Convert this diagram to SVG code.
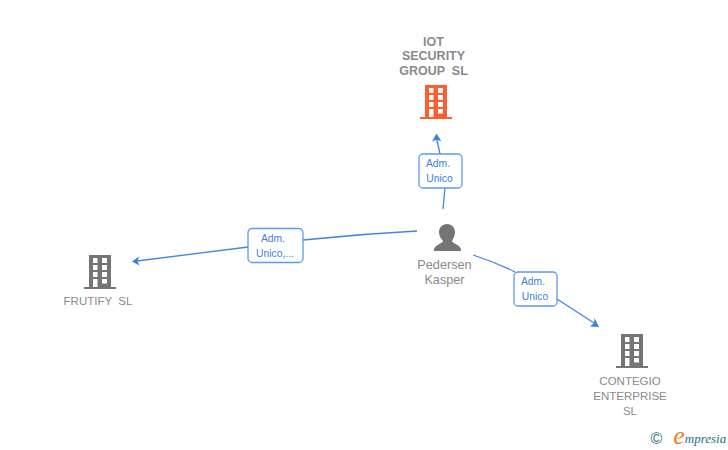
<svg xmlns="http://www.w3.org/2000/svg" width="728" height="450" viewBox="0 0 728 450">
<style>
text{font-family:"Liberation Sans",Arial,sans-serif;text-anchor:middle}
.n{font-size:11.500px;fill:#8a8a8a}
.b{font-size:12.500px;font-weight:bold;fill:#8a8a8a}
.p{font-size:12.700px;fill:#8a8a8a}
.l{font-size:10.300px;fill:#3a80e0}
.c{fill:none;stroke:#3f86e4;stroke-width:1.300}
.box{fill:#fff;stroke:#5b9cec;stroke-width:1.300}
.a{fill:#3a80e0}
</style>
<defs>
<g id="bld">
<path fill-rule="evenodd" d="M-11 -17H11V15H16V17H-16V15H-11ZM-7 -14V-9H-2.500V-14ZM2 -14V-9H7V-14ZM-7 -7V-2H-2.500V-7ZM2 -7V-2H7V-7ZM-7 0V5H-2.500V0ZM2 0V5H7V0ZM-7 7V15H-2.500V7ZM2 7V11.500H7V7Z"/>
</g>
</defs>
<g id="connectors">
<path class="c" d="M443 209L445 188"/>
<path class="c" d="M440 154L436.500 138"/>
<path class="a" d="M436.500 133.500L441.500 141.500L436.700 139.500L432 141.500Z"/>
<path class="c" d="M417 231Q360 234 303 240"/>
<path class="c" d="M248 247L137 261"/>
<path class="a" d="M132 261.500L139 256.500L137.500 261.200L139.500 265.500Z"/>
<path class="c" d="M473 255Q495 262 515 272"/>
<path class="c" d="M557 299L594 323"/>
<path class="a" d="M599 327L590 326.500L594 323L594.500 318Z"/>
</g>
<g id="node-iot">
<use href="#bld" x="436" y="102" fill="#ff5f2e"/>
<text class="b" x="433.500" y="45.500">IOT</text>
<text class="b" x="433.500" y="60">SECURITY</text>
<text class="b" x="433.500" y="75" xml:space="preserve">GROUP  SL</text>
</g>
<g id="node-frutify">
<use href="#bld" x="100" y="272" fill="#757575"/>
<text class="n" x="98" y="305" xml:space="preserve">FRUTIFY  SL</text>
</g>
<g id="node-contegio">
<use href="#bld" x="632" y="351" fill="#757575"/>
<text class="n" x="630" y="385">CONTEGIO</text>
<text class="n" x="630" y="400">ENTERPRISE</text>
<text class="n" x="630" y="415">SL</text>
</g>
<g id="node-pedersen">
<path fill="#757575" d="M447 224C452 224 455 228 455 232C455 236 453 239 452 241C453 244 461 245 461 250V251H434V250C434 245 442 244 443 241C441 239 439 236 439 232C439 228 442 224 447 224Z"/>
<text class="p" x="444.500" y="269">Pedersen</text>
<text class="p" x="444.500" y="284">Kasper</text>
</g>
<g id="label-iot">
<rect class="box" x="419" y="154" width="43" height="34" rx="4"/>
<text class="l" x="438" y="167">Adm.</text>
<text class="l" x="439.500" y="182">Unico</text>
</g>
<g id="label-frutify">
<rect class="box" x="248" y="228.500" width="55" height="34" rx="4"/>
<text class="l" x="273" y="242">Adm.</text>
<text class="l" x="275" y="257">Unico,...</text>
</g>
<g id="label-contegio">
<rect class="box" x="514" y="272" width="43" height="34" rx="4"/>
<text class="l" x="533" y="285">Adm.</text>
<text class="l" x="535" y="300">Unico</text>
</g>
<g id="logo">
<text x="656.500" y="444" style="font-family:'Liberation Sans',sans-serif;font-size:16px;fill:#2f7080">©</text>
<text x="679" y="444" style="font-family:'Liberation Serif',serif;font-style:italic;font-size:26px;fill:#f08020">e</text>
<text x="705.500" y="443" style="font-family:'Liberation Serif',serif;font-style:italic;font-size:13px;fill:#1f7080">mpresia</text>
</g>
</svg>
